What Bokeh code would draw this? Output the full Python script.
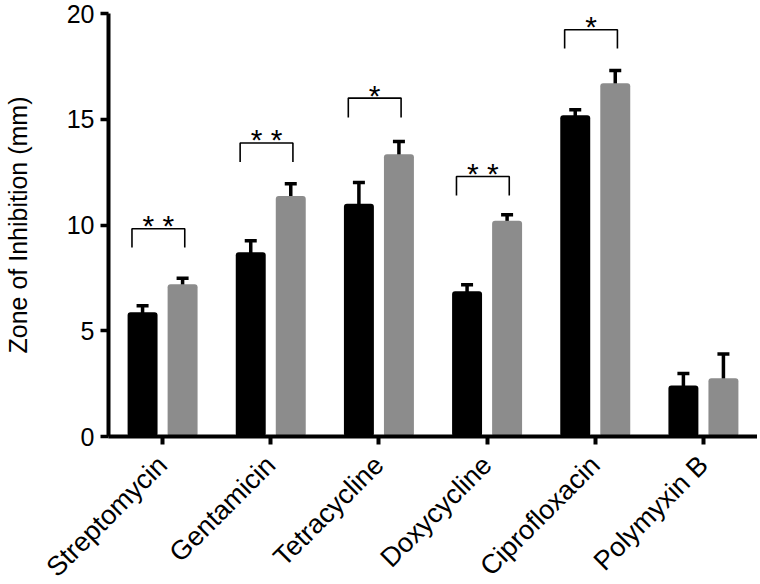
import math
from bokeh.plotting import figure
from bokeh.models import Range1d, FixedTicker, ColumnDataSource, Whisker, TeeHead
from bokeh.core.properties import value
from bokeh.embed import file_html
from bokeh.resources import INLINE

# ---- data ----
antibiotics = ["Streptomycin", "Gentamicin", "Tetracycline", "Doxycycline", "Ciprofloxacin", "Polymyxin B"]
black_mean = [5.87, 8.71, 11.01, 6.87, 15.19, 2.41]
black_err = [0.31, 0.54, 1.00, 0.31, 0.26, 0.57]
gray_mean = [7.20, 11.37, 13.35, 10.20, 16.70, 2.75]
gray_err = [0.28, 0.58, 0.60, 0.29, 0.61, 1.15]

# significance annotations: (category index, label, bracket top, bracket bottom)
sig_index = [0, 1, 2, 3, 4]
sig_label = ["* *", "* *", "*", "* *", "*"]
sig_top = [9.82, 13.88, 16.0, 12.29, 19.23]
sig_bottom = [8.94, 12.98, 15.08, 11.40, 18.35]

y_ticks = [0, 5, 10, 15, 20]

FONT = "Liberation Sans"
GRAY = "#8c8c8c"
OFF = 0.185
BW = 0.277

p = figure(output_backend="svg", toolbar_location=None,
           frame_width=649, frame_height=423,
           min_border_left=101, min_border_top=13, min_border_right=0, min_border_bottom=125,
           x_range=Range1d(0, len(antibiotics)), y_range=Range1d(0, 20))
p.outline_line_color = None
p.grid.visible = False
p.background_fill_color = "white"

centers = [i + 0.5 for i in range(len(antibiotics))]
bx = [c - OFF for c in centers]
gx = [c + OFF for c in centers]

p.vbar(x=bx, top=black_mean, width=BW, bottom=0, fill_color="black", line_color=None, border_radius=3)
p.vbar(x=gx, top=gray_mean, width=BW, bottom=0, fill_color=GRAY, line_color=None, border_radius=3)

src_b = ColumnDataSource(dict(x=bx, up=[m + e for m, e in zip(black_mean, black_err)],
                              lo=[m - e for m, e in zip(black_mean, black_err)]))
src_g = ColumnDataSource(dict(x=gx, up=[m + e for m, e in zip(gray_mean, gray_err)],
                              lo=[m - e for m, e in zip(gray_mean, gray_err)]))
for src in (src_b, src_g):
    w = Whisker(base="x", upper="up", lower="lo", source=src, line_width=3.5, line_color="black",
                upper_head=TeeHead(size=12, line_width=3.5, line_color="black"),
                lower_head=TeeHead(size=12, line_width=3.5, line_color="black"))
    p.add_layout(w)

# significance brackets
xs, ys, tx, ty = [], [], [], []
for i, t, b in zip(sig_index, sig_top, sig_bottom):
    x0 = centers[i] - 0.283
    x1 = centers[i] + 0.205
    xs.append([x0, x0, x1, x1])
    ys.append([b, t, t, b])
    tx.append((x0 + x1) / 2)
    ty.append(t)
p.multi_line(xs=xs, ys=ys, line_color="black", line_width=1.6)
p.text(x=tx, y=ty, text=sig_label, text_align="center", text_baseline="alphabetic",
       y_offset=-3, text_font_size="30px", text_font=value(FONT), text_color="black")

# axes
yax = p.yaxis[0]
yax.ticker = FixedTicker(ticks=y_ticks)
yax.minor_tick_line_color = None
yax.major_tick_out = 8
yax.major_tick_in = 0
yax.major_tick_line_width = 3.5
yax.axis_line_width = 4
yax.major_label_text_font = FONT
yax.major_label_text_font_size = "25px"
yax.major_label_text_color = "black"
yax.major_label_standoff = 6
yax.axis_label = "Zone of Inhibition (mm)"
yax.axis_label_text_font = FONT
yax.axis_label_text_font_size = "25px"
yax.axis_label_text_font_style = "normal"
yax.axis_label_text_color = "black"
yax.axis_label_standoff = 32

xax = p.xaxis[0]
xax.ticker = FixedTicker(ticks=centers)
xax.major_label_overrides = {c: n for c, n in zip(centers, antibiotics)}
xax.minor_tick_line_color = None
xax.major_tick_out = 8
xax.major_tick_in = 0
xax.major_tick_line_width = 4
xax.axis_line_width = 4
xax.major_label_orientation = math.pi / 4
xax.major_label_text_font = FONT
xax.major_label_text_font_size = "27px"
xax.major_label_text_color = "black"
xax.major_label_standoff = 16

open("out.html", "w").write(file_html(p, INLINE))
